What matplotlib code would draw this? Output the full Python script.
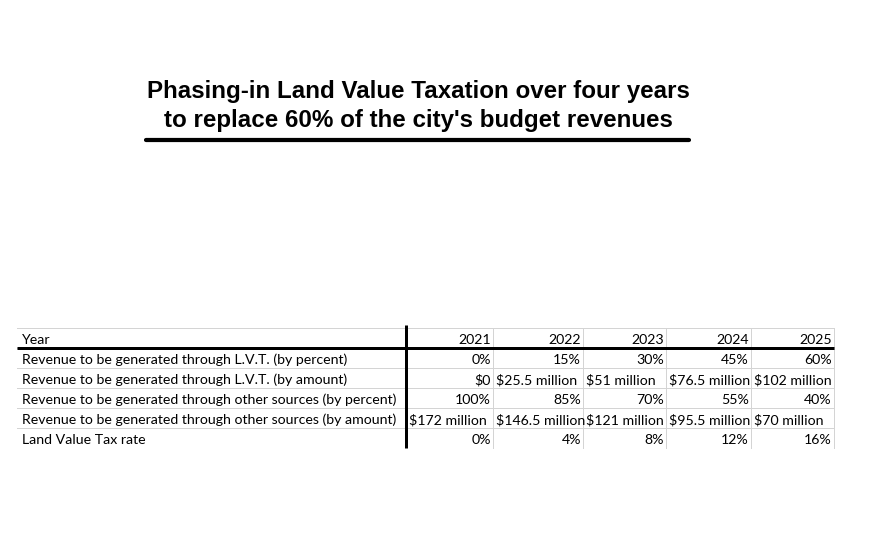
import matplotlib.pyplot as plt

TITLE = "Phasing-in Land Value Taxation over four years\nto replace 60% of the city's budget revenues"

years = ["2021", "2022", "2023", "2024", "2025"]
row_labels = [
    "Revenue to be generated through L.V.T. (by percent)",
    "Revenue to be generated through L.V.T. (by amount)",
    "Revenue to be generated through other sources (by percent)",
    "Revenue to be generated through other sources (by amount)",
    "Land Value Tax rate",
]
lvt_percent = ["0%", "15%", "30%", "45%", "60%"]
lvt_amount = ["$0", "$25.5 million", "$51 million", "$76.5 million", "$102 million"]
other_percent = ["100%", "85%", "70%", "55%", "40%"]
other_amount = ["$172 million", "$146.5 million", "$121 million", "$95.5 million", "$70 million"]
tax_rate = ["0%", "4%", "8%", "12%", "16%"]

rows = [lvt_percent, lvt_amount, other_percent, other_amount, tax_rate]

# layout in pixels (spreadsheet-like grid)
col_edges = [17, 406, 493, 583, 666, 751, 834]
row_edges = [328, 348, 368, 388, 408, 428, 448]
GRID = "#d4d4d4"
CELL_FONT = ["Lato", "DejaVu Sans"]
CELL_SIZE = 10.2
TEXT_DY = 1.8


def px(v):
    return v * 72 / 100


fig = plt.figure(figsize=(8.7, 5.54), dpi=100)
ax = fig.add_axes([0, 0, 1, 1])
ax.set_xlim(0, 870)
ax.set_ylim(554, 0)
ax.axis("off")

ax.text(418, 106, TITLE, ha="center", va="center", fontsize=17.4,
        fontweight="bold", family="Liberation Sans", linespacing=1.36)
ax.plot([146, 689], [139.5, 139.5], color="black", lw=px(4.2),
        solid_capstyle="round")

# gray gridlines
for y in row_edges[:-1]:
    ax.plot([col_edges[0], col_edges[-1]], [y, y], color=GRID, lw=px(1))
for x in col_edges[2:]:
    ax.plot([x, x], [row_edges[0], row_edges[-1]], color=GRID, lw=px(1))

# thick separators
ax.plot([col_edges[0], col_edges[-1]], [row_edges[1], row_edges[1]],
        color="black", lw=px(3), solid_capstyle="butt")
ax.plot([col_edges[1], col_edges[1]], [row_edges[0] - 3, row_edges[-1]],
        color="black", lw=px(3), solid_capstyle="butt")


def cell(text, r, c):
    yc = (row_edges[r] + row_edges[r + 1]) / 2 + TEXT_DY
    if "million" in text:
        ax.text(col_edges[c] + 3, yc, text, ha="left", va="center",
                fontsize=CELL_SIZE, family=CELL_FONT)
    else:
        ax.text(col_edges[c + 1] - 2, yc, text, ha="right", va="center",
                fontsize=CELL_SIZE, family=CELL_FONT)


ax.text(col_edges[0] + 5, (row_edges[0] + row_edges[1]) / 2 + TEXT_DY, "Year",
        ha="left", va="center", fontsize=CELL_SIZE, family=CELL_FONT)
for j, yr in enumerate(years):
    cell(yr, 0, j + 1)

for i, (label, vals) in enumerate(zip(row_labels, rows)):
    yc = (row_edges[i + 1] + row_edges[i + 2]) / 2 + TEXT_DY
    ax.text(col_edges[0] + 5, yc, label, ha="left", va="center",
            fontsize=CELL_SIZE, family=CELL_FONT)
    for j, v in enumerate(vals):
        cell(v, i + 1, j + 1)

fig.savefig("out.png", dpi=100)
